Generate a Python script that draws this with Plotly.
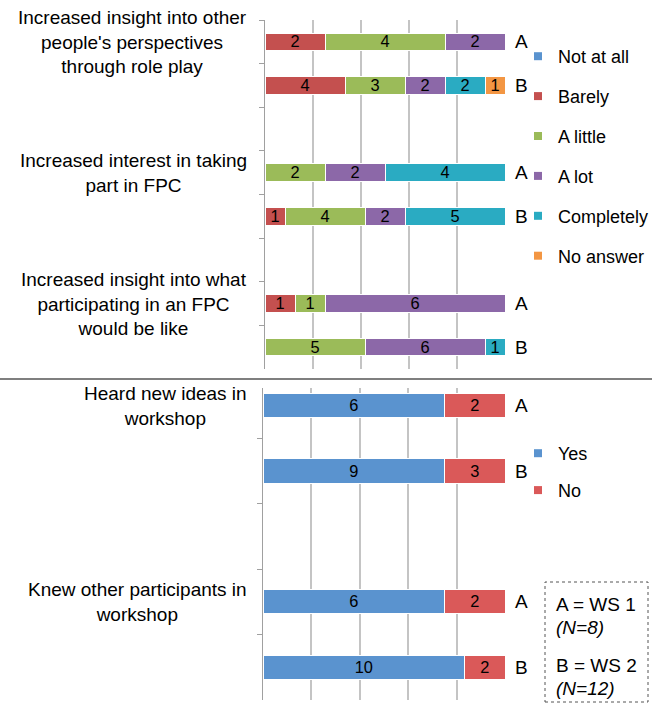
import plotly.graph_objects as go

W, H = 652, 714

# ---------------- data ----------------
top_rows = ["Q1A", "Q1B", "G1", "Q2A", "Q2B", "G2", "Q3A", "Q3B"]
top_side = ["A", "B", "", "A", "B", "", "A", "B"]
top_questions = [
    "Increased insight into other<br>people's perspectives<br>through role play",
    "Increased interest in taking<br>part in FPC",
    "Increased insight into what<br>participating in an FPC<br>would be like",
]
top_question_rows = ["Q1A", "Q2A", "Q3A"]
top_levels = ["Not at all", "Barely", "A little", "A lot", "Completely", "No answer"]
top_colors = ["#5A93CF", "#C4504F", "#9BBB59", "#8C68A8", "#2AABC2", "#F39643"]
not_at_all = [None, None, None, None, None, None, None, None]
barely =     [2, 4, None, None, 1, None, 1, None]
a_little =   [4, 3, None, 2, 4, None, 1, 5]
a_lot =      [2, 2, None, 2, 2, None, 6, 6]
completely = [None, 2, None, 4, 5, None, None, 1]
no_answer =  [None, 1, None, None, None, None, None, None]
top_values = [not_at_all, barely, a_little, a_lot, completely, no_answer]

bot_rows = ["H_A", "H_B", "G3", "K_A", "K_B"]
bot_side = ["A", "B", "", "A", "B"]
bot_questions = ["Heard new ideas in<br>workshop", "Knew other participants in<br>workshop"]
bot_question_rows = ["H_A", "K_A"]
bot_levels = ["Yes", "No"]
bot_colors = ["#5A93CF", "#DA5959"]
yes_vals = [6, 9, None, 6, 10]
no_vals = [2, 3, None, 2, 2]
bot_values = [yes_vals, no_vals]

box_texts = ["A = WS 1", "<i>(N=8)</i>", "B = WS 2", "<i>(N=12)</i>"]

FONT = "Liberation Sans, Arial, Helvetica, sans-serif"
FS = 19
LFS = 18


def px_x(p):
    return p / W


def px_y(p):
    return 1 - p / H


fig = go.Figure()


def txt(vals):
    return [("" if v is None else str(v)) for v in vals]


for name, col, vals in zip(top_levels, top_colors, top_values):
    fig.add_trace(go.Bar(
        y=top_rows, x=vals, orientation="h", name=name,
        marker=dict(color=col, line=dict(color="white", width=1)),
        text=txt(vals), textposition="inside", insidetextanchor="middle",
        textangle=0,
        textfont=dict(color="black", size=18, family=FONT),
        xaxis="x", yaxis="y", showlegend=False, hoverinfo="skip",
    ))
    fig.add_trace(go.Scatter(
        x=[None], y=[None], mode="markers", name=name,
        marker=dict(color=col, symbol="square", size=8),
        legend="legend", legendgroup=name, xaxis="x", yaxis="y",
    ))

for name, col, vals in zip(bot_levels, bot_colors, bot_values):
    fig.add_trace(go.Bar(
        y=bot_rows, x=vals, orientation="h", name=name,
        marker=dict(color=col, line=dict(color="white", width=1)),
        text=txt(vals), textposition="inside", insidetextanchor="middle",
        textangle=0, width=0.37,
        textfont=dict(color="black", size=18, family=FONT),
        xaxis="x2", yaxis="y2", showlegend=False, hoverinfo="skip",
    ))
    fig.add_trace(go.Scatter(
        x=[None], y=[None], mode="markers", name=name,
        marker=dict(color=col, symbol="square", size=8),
        legend="legend2", legendgroup="b" + name, xaxis="x2", yaxis="y2",
    ))

grid = dict(showgrid=True, gridcolor="#C4C4C4", gridwidth=2, range=[0, 100],
            dtick=20, showticklabels=False, zeroline=False, showline=False,
            fixedrange=True)

fig.update_layout(
    width=W, height=H, margin=dict(l=0, r=0, t=0, b=0, autoexpand=False),
    paper_bgcolor="white", plot_bgcolor="white",
    barmode="stack", barnorm="percent", bargap=0.6,
    font=dict(family=FONT, size=FS, color="black"),
    uniformtext=dict(minsize=10, mode="show"),
    xaxis=dict(domain=[px_x(265), px_x(505)], anchor="y", **grid),
    yaxis=dict(domain=[px_y(369), px_y(20)], anchor="x", type="category",
               categoryorder="array", categoryarray=top_rows,
               range=[7.5, -0.5], tickson="boundaries", ticks="outside",
               ticklen=5, tickcolor="#A0A0A0", showticklabels=False,
               showline=True, linecolor="#A0A0A0", linewidth=1, showgrid=False,
               fixedrange=True),
    xaxis2=dict(domain=[px_x(263), px_x(505)], anchor="y2", **grid),
    yaxis2=dict(domain=[px_y(700), px_y(388)], anchor="x2", type="category",
                categoryorder="array", categoryarray=bot_rows,
                range=[4.5, -0.27], tickson="boundaries", ticks="outside",
                ticklen=5, tickcolor="#A0A0A0", showticklabels=False,
                showline=True, linecolor="#A0A0A0", linewidth=1, showgrid=False,
                fixedrange=True),
    legend=dict(x=px_x(518), y=px_y(38), xanchor="left", yanchor="top",
                font=dict(size=LFS, family=FONT), tracegroupgap=13.5,
                bgcolor="rgba(0,0,0,0)", itemclick=False),
    legend2=dict(x=px_x(518), y=px_y(435), xanchor="left", yanchor="top",
                 font=dict(size=LFS, family=FONT), tracegroupgap=10.5,
                 bgcolor="rgba(0,0,0,0)", itemclick=False),
)

annotations = []
for q, r in zip(top_questions, top_question_rows):
    annotations.append(dict(text=q, x=px_x(249), xref="paper", y=r, yref="y",
                            showarrow=False, align="center", xanchor="right",
                            yanchor="middle", font=dict(size=FS)))
for r, s in zip(top_rows, top_side):
    if s:
        annotations.append(dict(text=s, x=px_x(513), xref="paper", y=r, yref="y",
                                showarrow=False, xanchor="left", font=dict(size=FS)))
for q, r in zip(bot_questions, bot_question_rows):
    annotations.append(dict(text=q, x=px_x(249), xref="paper", y=r, yref="y2",
                            showarrow=False, align="center", xanchor="right",
                            yanchor="middle", font=dict(size=FS)))
for r, s in zip(bot_rows, bot_side):
    if s:
        annotations.append(dict(text=s, x=px_x(513), xref="paper", y=r, yref="y2",
                                showarrow=False, xanchor="left", font=dict(size=FS)))

for t, yy in zip(box_texts, [604, 627, 665, 688]):
    annotations.append(dict(text=t, x=px_x(554), xref="paper", y=px_y(yy), yref="paper",
                            showarrow=False, xanchor="left", yanchor="middle",
                            font=dict(size=FS)))
fig.update_layout(annotations=annotations)

fig.add_shape(type="line", xref="paper", yref="paper", x0=0, x1=1,
              y0=px_y(379), y1=px_y(379), line=dict(color="#7F7F7F", width=2))
fig.add_shape(type="rect", xref="paper", yref="paper", x0=px_x(545), x1=px_x(648),
              y0=px_y(702), y1=px_y(582), line=dict(color="#555555", width=1, dash="dot"))

fig.write_html("out.html")
